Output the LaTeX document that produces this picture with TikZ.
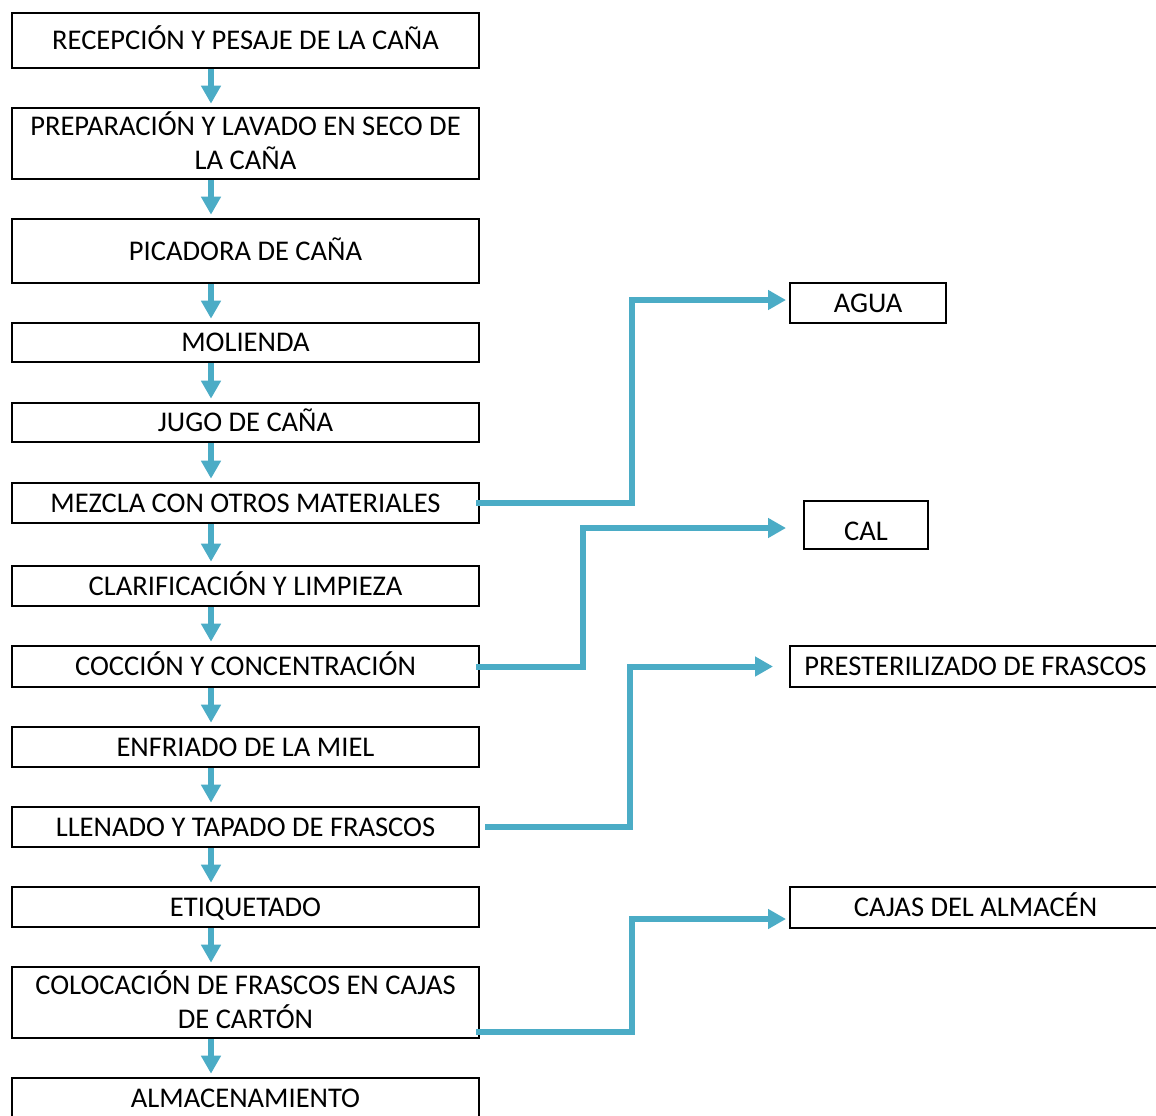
\documentclass[tikz,border=0pt]{standalone}
\usepackage{fontspec}
\setmainfont{Carlito}
\usetikzlibrary{arrows.meta}
\definecolor{aqua}{HTML}{4BACC6}
\begin{document}
\begin{tikzpicture}[x=0.75pt,y=-0.75pt,
 txt/.style={font=\fontsize{21.4pt}{25.5pt}\selectfont},
 one/.style={text height=13.8pt, text depth=0pt},
 two/.style={text height=39.3pt, text depth=0pt},
 lbox/.style={draw, line width=1.5pt, minimum width=350.25pt, align=center, inner sep=0pt, anchor=north west, txt},
 rbox/.style={draw, line width=1.5pt, align=center, inner sep=0pt, anchor=north west, txt, one},
 darr/.style={draw=aqua, line width=4.5pt, -{Triangle[width=14.25pt,length=13.5pt]}, shorten >=2.5pt},
 conn/.style={draw=aqua, line width=4.5pt, -{Triangle[width=14.25pt,length=13.5pt]}}]
\useasboundingbox (0,0) rectangle (1156,1115);
\fill[white] (0,0) rectangle (1156,1115);
% left column
\node[lbox, one, minimum height=41.25pt] (b1) at (11,12) {RECEPCIÓN Y PESAJE DE LA CAÑA};
\node[lbox, two, minimum height=53.25pt] (b2) at (11,107) {PREPARACIÓN Y LAVADO EN SECO DE\\LA CAÑA};
\node[lbox, one, minimum height=48pt] (b3) at (11,218) {PICADORA DE CAÑA};
\node[lbox, one, minimum height=29.25pt] (b4) at (11,322) {MOLIENDA};
\node[lbox, one, minimum height=29.25pt] (b5) at (11,402) {JUGO DE CAÑA};
\node[lbox, one, minimum height=30pt] (b6) at (11,482) {MEZCLA CON OTROS MATERIALES};
\node[lbox, one, minimum height=30pt] (b7) at (11,565) {CLARIFICACIÓN Y LIMPIEZA};
\node[lbox, one, minimum height=30.75pt] (b8) at (11,645) {COCCIÓN Y CONCENTRACIÓN};
\node[lbox, one, minimum height=30pt] (b9) at (11,726) {ENFRIADO DE LA MIEL};
\node[lbox, one, minimum height=30pt] (b10) at (11,806) {LLENADO Y TAPADO DE FRASCOS};
\node[lbox, one, minimum height=30pt] (b11) at (11,886) {ETIQUETADO};
\node[lbox, two, minimum height=53.25pt] (b12) at (11,966) {COLOCACIÓN DE FRASCOS EN CAJAS\\DE CARTÓN};
\node[lbox, one, minimum height=30pt] (b13) at (11,1077) {ALMACENAMIENTO};
% right column
\node[rbox, minimum width=117pt, minimum height=30pt] (agua) at (789,282) {AGUA};
\node[rbox, minimum width=93pt, minimum height=36pt, text height=22.8pt] (cal) at (803,500) {CAL};
\node[rbox, minimum width=278.25pt, minimum height=30.75pt] (prest) at (789,645) {PRESTERILIZADO DE FRASCOS};
\node[rbox, minimum width=278.25pt, minimum height=30.75pt] (cajas) at (789,886) {CAJAS DEL ALMACÉN};
% down arrows
\foreach \a/\b in {b1/b2,b2/b3,b3/b4,b4/b5,b5/b6,b6/b7,b7/b8,b8/b9,b9/b10,b10/b11,b11/b12,b12/b13}
  \draw[darr] ([xshift=-25.875pt]\a.south) -- ([xshift=-25.875pt]\b.north);
% side connectors
\draw[conn] ([xshift=-3pt]b6.east) -- ++(156,0) |- ([xshift=-2.25pt,yshift=2.25pt]agua.west);
\draw[conn] ([xshift=-3pt]b8.east) -- ++(107,0) |- ([xshift=-12.75pt,yshift=-2.25pt]cal.west);
\draw[conn] ([xshift=3.75pt]b10.east) -- ++(145,0) |- ([xshift=-12pt]prest.west);
\draw[conn] ([xshift=-3pt,yshift=-22.125pt]b12.east) -- ++(156,0) |- ([xshift=-2.25pt,yshift=-8.625pt]cajas.west);
\end{tikzpicture}
\end{document}
